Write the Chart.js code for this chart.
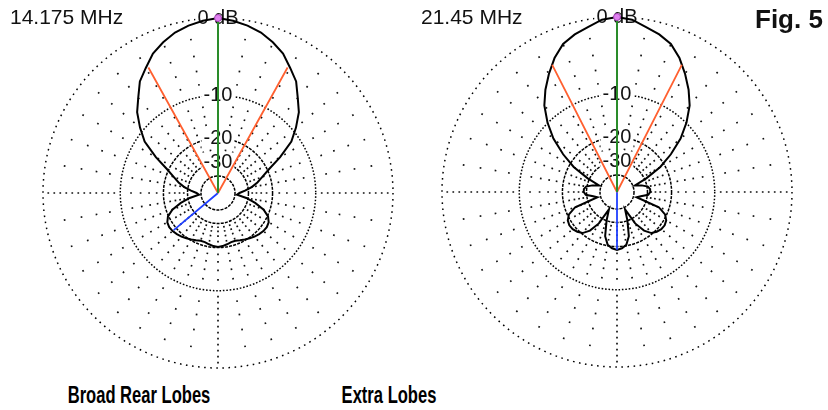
<!DOCTYPE html>
<html><head><meta charset="utf-8">
<script src="https://cdn.jsdelivr.net/npm/chart.js@4.4.1/dist/chart.umd.min.js"></script>
<style>
html,body{margin:0;padding:0;background:#fff;}
body{width:828px;height:410px;position:relative;overflow:hidden;font-family:"Liberation Sans",Arial,sans-serif;}
.plot{position:absolute;width:370px;height:370px;}
.plot canvas{display:block;}
.freq{position:absolute;font-size:21px;line-height:1;color:#111;white-space:nowrap;}
.fig{position:absolute;font-size:26px;font-weight:bold;line-height:1;color:#111;white-space:nowrap;}
.cap{position:absolute;width:300px;text-align:center;font-family:"Liberation Sans",Arial,sans-serif;font-weight:bold;font-size:23px;line-height:1;color:#000;white-space:nowrap;transform:scaleX(0.72);transform-origin:50% 50%;}
</style></head><body>
<div class="plot" id="wl"><canvas id="cl" width="370" height="370"></canvas></div>
<div class="plot" id="wr"><canvas id="cr" width="370" height="370"></canvas></div>
<div class="freq" style="left:10px;top:6px">14.175 MHz</div>
<div class="freq" style="left:421px;top:6px">21.45 MHz</div>
<div class="fig" style="left:755px;top:6px">Fig. 5</div>
<div class="cap" style="left:-11px;top:384px">Broad Rear Lobes</div>
<div class="cap" style="left:239px;top:384px">Extra Lobes</div>
<script>
// ---- data ----
const angleLabels = Array.from({length: 360}, (_, i) => i);
const patternAngles = [0,5,10,15,20,25,30,35,40,45,50,55,60,65,70,75,80,85,90,95,100,105,110,115,120,125,130,135,140,145,150,155,160,165,170,175,180,
  185,190,195,200,205,210,215,220,225,230,235,240,245,250,255,260,265,270,275,280,285,290,295,300,305,310,315,320,325,330,335,340,345,350,355];
const leftPatternDb = [0,-0.2,-0.5,-0.9,-1.5,-2.2,-3.3,-4.3,-5.9,-7.3,-9.3,-11.5,-15.3,-19.5,-22.5,-25,-28,-32,-36,-38,-31,-26,-22,-19.8,-18.8,-18.5,-18.6,-18.9,-19.3,-19.8,-20.3,-20.8,-21.2,-21.2,-20.8,-20.4,-20.2,
  -20.4,-20.8,-21.2,-21.2,-20.8,-20.3,-19.8,-19.3,-18.9,-18.6,-18.5,-18.8,-19.8,-22,-26,-31,-38,-36,-32,-28,-25,-22.5,-19.5,-15.3,-11.5,-9.3,-7.3,-5.9,-4.3,-3.3,-2.2,-1.5,-0.9,-0.5,-0.2];
const rightPatternDb = [0,-0.2,-0.75,-1.2,-1.8,-2.9,-4.3,-5.8,-7.5,-9.9,-12.8,-16.8,-21.5,-29,-38,-33,-29.5,-28.5,-28.5,-29.5,-34,-37,-23.5,-20.5,-19.3,-18.9,-19,-19.5,-20.3,-22.5,-27,-38,-30,-23,-20.3,-19.4,-19,
  -19.4,-20.3,-23,-30,-38,-27,-22.5,-20.3,-19.5,-19,-18.9,-19.3,-20.5,-23.5,-37,-34,-29.5,-28.5,-28.5,-29.5,-33,-38,-29,-21.5,-16.8,-12.8,-9.9,-7.5,-5.8,-4.3,-2.9,-1.8,-1.2,-0.75,-0.2];
const leftBeamAngles = [29, 331];
const leftBeamDb = -3.4;
const leftBackAngle = 230;
const leftBackDb = -19;
const rightBeamAngles = [27, 333];
const rightBeamDb = -3.5;
const rightBackAngle = 180;
const rightBackDb = -19;
const ringDb = [0, -10, -20, -30, -40];
const ringText = ['0 dB', '-10', '-20', '-30', ''];
const dotRingDb = [-2, -4, -6, -8, -12, -14, -16, -18, -22, -24, -26, -28];

// ARRL log scale: radius factor 0.89 per 2 dB
const rho = db => Math.pow(0.89, -db / 2);

function sparseSeries(angles, dbs) {
  const arr = new Array(360).fill(null);
  angles.forEach((a, i) => { arr[a % 360] = rho(dbs[i]); });
  return arr;
}
function spokeSeries(angle, db) {
  const arr = new Array(360).fill(null);
  arr[angle % 360] = rho(db);
  arr[(angle + 1) % 360] = 0;
  return arr;
}
function markerSeries(angle, db) {
  const arr = new Array(360).fill(null);
  arr[angle] = rho(db);
  return arr;
}
function spokeDash(c) {
  const R = c.scale.drawingArea;
  const r10 = rho(-10) * R;
  let pts = dotRingDb.map(d => rho(d) * R);
  if (c.index % 90 === 0) {
    pts = pts.filter(r => r < r10 - 2);
    for (let r = r10 + 6; r < R - 3; r += 6) pts.push(r);
  }
  pts.sort((a, b) => a - b);
  const d = 1.7;
  const arr = [0];
  let pos = 0;
  for (const r of pts) { const s = r - d / 2; arr.push(Math.max(s - pos, 0.01)); arr.push(d); pos = s + d; }
  arr.push(R + 50 - pos);
  return arr;
}
function ringDash(c) {
  const r = c.scale.getDistanceFromCenterForValue(c.tick.value);
  if (r < 80) return [3, 1.2];
  const step = 2 * Math.PI * r / 180;
  return [1.6, Math.max(step - 1.6, 0.4)];
}

function makeChart(id, wrapId, cx, cy, patternDb, beamAngles, beamDb, backAngle, backDb) {
  const lineBase = {pointRadius: 0, fill: false, spanGaps: true, tension: 0, borderWidth: 1.8};
  const chart = new Chart(document.getElementById(id), {
    type: 'radar',
    data: {
      labels: angleLabels,
      datasets: [
        {data: markerSeries(0, 0), pointRadius: 3.5, pointBackgroundColor: '#e080f0', pointBorderColor: '#a040b0',
         pointBorderWidth: 1, borderWidth: 0, borderColor: 'rgba(0,0,0,0)', fill: false, spanGaps: false},
        Object.assign({}, lineBase, {data: spokeSeries(0, 0), borderColor: '#2a8c2a', borderWidth: 2}),
        Object.assign({}, lineBase, {data: spokeSeries(beamAngles[0], beamDb), borderColor: '#ff6030'}),
        Object.assign({}, lineBase, {data: spokeSeries(beamAngles[1], beamDb), borderColor: '#ff6030'}),
        Object.assign({}, lineBase, {data: spokeSeries(backAngle, backDb), borderColor: '#2040ff'}),
        Object.assign({}, lineBase, {data: sparseSeries(patternAngles, patternDb), borderColor: '#000', borderWidth: 2})
      ]
    },
    options: {
      responsive: false, animation: false, events: [],
      layout: {padding: 0},
      plugins: {legend: {display: false}, tooltip: {enabled: false}},
      scales: {
        r: {
          min: 0, max: 1, startAngle: 0,
          afterBuildTicks: s => {
            s.ticks = [{value: 0}].concat(ringDb.map(d => ({value: rho(d)}))).sort((a, b) => a.value - b.value);
          },
          ticks: {
            callback: v => { const i = ringDb.findIndex(d => Math.abs(rho(d) - v) < 1e-9); return i >= 0 ? ringText[i] : ''; },
            font: {family: 'Liberation Sans', size: 20},
            color: '#111',
            showLabelBackdrop: c => !!(c.tick && c.tick.label),
            backdropColor: '#fff',
            backdropPadding: {x: 2, y: 0},
            z: 0
          },
          grid: {circular: true, color: '#000', lineWidth: c => (c.index >= 1 && c.index <= 3 ? 1.5 : 1.5)},
          border: {dash: ringDash},
          angleLines: {display: true, color: '#111', lineWidth: c => (c.index % 10 === 0 ? 1.7 : 0), borderDash: spokeDash},
          pointLabels: {display: false}
        }
      }
    }
  });
  const s = chart.scales.r;
  const w = document.getElementById(wrapId);
  w.style.left = (cx - s.xCenter) + 'px';
  w.style.top = (cy - s.yCenter) + 'px';
  return chart;
}
makeChart('cl', 'wl', 218, 193, leftPatternDb, leftBeamAngles, leftBeamDb, leftBackAngle, leftBackDb);
makeChart('cr', 'wr', 617, 192, rightPatternDb, rightBeamAngles, rightBeamDb, rightBackAngle, rightBackDb);
</script>
</body></html>
